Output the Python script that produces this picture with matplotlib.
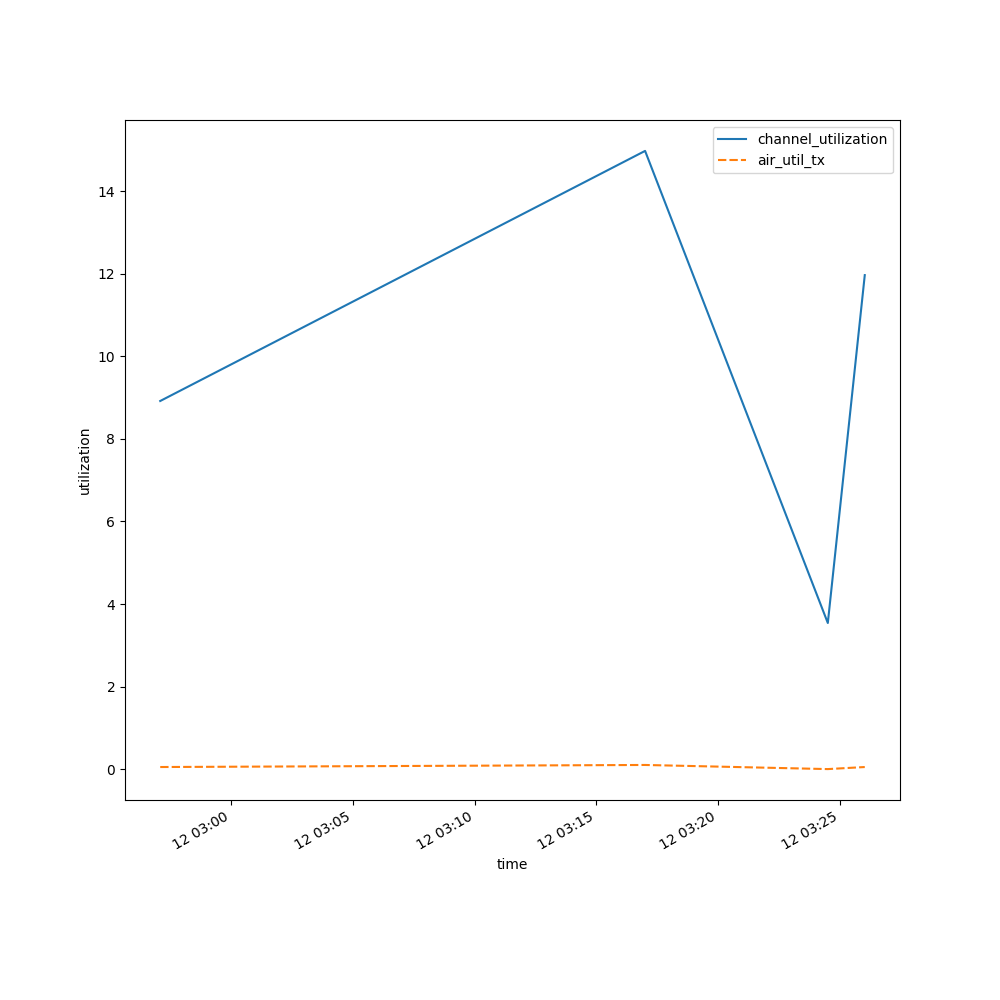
import numpy as np
import pandas as pd
import matplotlib
matplotlib.use("Agg")
from matplotlib import pyplot as plt

# readings
times = pd.to_datetime([
    "2024-06-12 02:57:06",
    "2024-06-12 03:17:00",
    "2024-06-12 03:24:30",
    "2024-06-12 03:26:01",
])
channel_utilization = [8.92, 14.98, 3.54, 11.97]
air_util_tx = [0.05, 0.10, 0.0, 0.05]

fig, ax = plt.subplots(figsize=(10, 10), dpi=100)

ax.plot(times, channel_utilization, color="#1f77b4", lw=1.5, label="channel_utilization")
ax.plot(times, air_util_tx, color="#ff7f0e", lw=1.5, dashes=(4, 1.5), label="air_util_tx")

ax.set_xlabel("time")
ax.set_ylabel("utilization")
ax.legend(loc="upper right")
fig.autofmt_xdate()

fig.savefig("out.png")
